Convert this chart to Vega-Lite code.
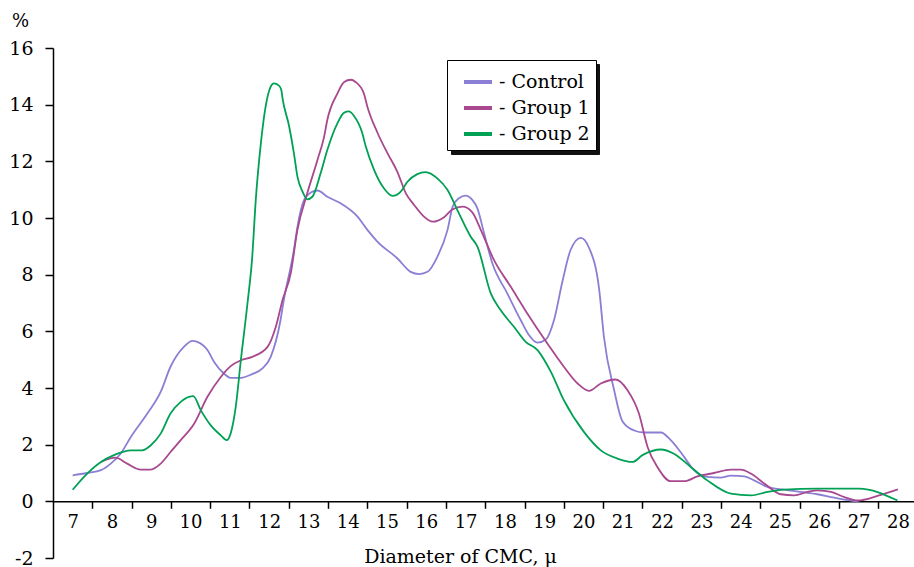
{
  "$schema": "https://vega.github.io/schema/vega-lite/v6.json",
  "autosize": {"type": "none"},
  "padding": {"left": 53, "top": 48, "right": 0, "bottom": 9},
  "width": 861,
  "height": 510,
  "background": "white",
  "config": {
    "view": {"stroke": null},
    "font": "DejaVu Serif",
    "axis": {"grid": false, "domainColor": "black", "tickColor": "black", "labelColor": "black", "titleColor": "black", "labelFont": "DejaVu Serif", "titleFont": "DejaVu Serif", "titleFontWeight": "normal", "domainWidth": 1.5, "tickWidth": 1.5},
    "legend": {"labelFont": "DejaVu Serif"}
  },
  "data": {
    "values": [
      {"d": 7.0, "p": 0.92, "g": "Control"},
      {"d": 7.37, "p": 1.0, "g": "Control"},
      {"d": 7.72, "p": 1.1, "g": "Control"},
      {"d": 7.97, "p": 1.33, "g": "Control"},
      {"d": 8.22, "p": 1.68, "g": "Control"},
      {"d": 8.48, "p": 2.27, "g": "Control"},
      {"d": 8.9, "p": 3.1, "g": "Control"},
      {"d": 9.24, "p": 3.86, "g": "Control"},
      {"d": 9.49, "p": 4.75, "g": "Control"},
      {"d": 9.83, "p": 5.45, "g": "Control"},
      {"d": 10.05, "p": 5.66, "g": "Control"},
      {"d": 10.17, "p": 5.63, "g": "Control"},
      {"d": 10.43, "p": 5.34, "g": "Control"},
      {"d": 10.6, "p": 4.92, "g": "Control"},
      {"d": 10.85, "p": 4.51, "g": "Control"},
      {"d": 11.02, "p": 4.36, "g": "Control"},
      {"d": 11.28, "p": 4.36, "g": "Control"},
      {"d": 11.57, "p": 4.49, "g": "Control"},
      {"d": 11.83, "p": 4.69, "g": "Control"},
      {"d": 12.04, "p": 5.1, "g": "Control"},
      {"d": 12.29, "p": 6.4, "g": "Control"},
      {"d": 12.36, "p": 7.0, "g": "Control"},
      {"d": 12.63, "p": 8.87, "g": "Control"},
      {"d": 12.72, "p": 9.69, "g": "Control"},
      {"d": 12.89, "p": 10.64, "g": "Control"},
      {"d": 13.06, "p": 10.9, "g": "Control"},
      {"d": 13.23, "p": 10.97, "g": "Control"},
      {"d": 13.48, "p": 10.75, "g": "Control"},
      {"d": 13.82, "p": 10.52, "g": "Control"},
      {"d": 14.25, "p": 10.05, "g": "Control"},
      {"d": 14.5, "p": 9.58, "g": "Control"},
      {"d": 14.76, "p": 9.16, "g": "Control"},
      {"d": 15.26, "p": 8.58, "g": "Control"},
      {"d": 15.6, "p": 8.1, "g": "Control"},
      {"d": 15.82, "p": 8.02, "g": "Control"},
      {"d": 16.03, "p": 8.1, "g": "Control"},
      {"d": 16.28, "p": 8.63, "g": "Control"},
      {"d": 16.54, "p": 9.58, "g": "Control"},
      {"d": 16.67, "p": 10.4, "g": "Control"},
      {"d": 16.83, "p": 10.7, "g": "Control"},
      {"d": 17.0, "p": 10.79, "g": "Control"},
      {"d": 17.17, "p": 10.64, "g": "Control"},
      {"d": 17.3, "p": 10.34, "g": "Control"},
      {"d": 17.47, "p": 9.46, "g": "Control"},
      {"d": 17.68, "p": 8.4, "g": "Control"},
      {"d": 18.06, "p": 7.34, "g": "Control"},
      {"d": 18.4, "p": 6.4, "g": "Control"},
      {"d": 18.61, "p": 5.87, "g": "Control"},
      {"d": 18.83, "p": 5.6, "g": "Control"},
      {"d": 19.04, "p": 5.71, "g": "Control"},
      {"d": 19.25, "p": 6.4, "g": "Control"},
      {"d": 19.47, "p": 7.8, "g": "Control"},
      {"d": 19.67, "p": 8.87, "g": "Control"},
      {"d": 19.93, "p": 9.3, "g": "Control"},
      {"d": 20.14, "p": 8.95, "g": "Control"},
      {"d": 20.4, "p": 7.46, "g": "Control"},
      {"d": 20.52, "p": 5.8, "g": "Control"},
      {"d": 20.78, "p": 3.92, "g": "Control"},
      {"d": 20.99, "p": 2.83, "g": "Control"},
      {"d": 21.29, "p": 2.5, "g": "Control"},
      {"d": 21.54, "p": 2.43, "g": "Control"},
      {"d": 21.97, "p": 2.43, "g": "Control"},
      {"d": 22.22, "p": 2.16, "g": "Control"},
      {"d": 22.56, "p": 1.57, "g": "Control"},
      {"d": 22.81, "p": 1.1, "g": "Control"},
      {"d": 23.15, "p": 0.86, "g": "Control"},
      {"d": 23.49, "p": 0.84, "g": "Control"},
      {"d": 23.75, "p": 0.91, "g": "Control"},
      {"d": 24.09, "p": 0.88, "g": "Control"},
      {"d": 24.34, "p": 0.74, "g": "Control"},
      {"d": 24.68, "p": 0.51, "g": "Control"},
      {"d": 25.1, "p": 0.41, "g": "Control"},
      {"d": 25.53, "p": 0.33, "g": "Control"},
      {"d": 25.95, "p": 0.25, "g": "Control"},
      {"d": 26.38, "p": 0.13, "g": "Control"},
      {"d": 26.81, "p": 0.03, "g": "Control"},
      {"d": 27.0, "p": 0.0, "g": "Control"},

      {"d": 7.72, "p": 1.39, "g": "Group 1"},
      {"d": 8.09, "p": 1.54, "g": "Group 1"},
      {"d": 8.39, "p": 1.33, "g": "Group 1"},
      {"d": 8.73, "p": 1.12, "g": "Group 1"},
      {"d": 8.99, "p": 1.12, "g": "Group 1"},
      {"d": 9.24, "p": 1.33, "g": "Group 1"},
      {"d": 9.49, "p": 1.74, "g": "Group 1"},
      {"d": 9.75, "p": 2.16, "g": "Group 1"},
      {"d": 10.09, "p": 2.74, "g": "Group 1"},
      {"d": 10.43, "p": 3.69, "g": "Group 1"},
      {"d": 10.77, "p": 4.39, "g": "Group 1"},
      {"d": 11.02, "p": 4.77, "g": "Group 1"},
      {"d": 11.28, "p": 4.98, "g": "Group 1"},
      {"d": 11.57, "p": 5.1, "g": "Group 1"},
      {"d": 11.96, "p": 5.45, "g": "Group 1"},
      {"d": 12.17, "p": 6.16, "g": "Group 1"},
      {"d": 12.34, "p": 7.1, "g": "Group 1"},
      {"d": 12.55, "p": 8.05, "g": "Group 1"},
      {"d": 12.72, "p": 9.58, "g": "Group 1"},
      {"d": 12.97, "p": 10.87, "g": "Group 1"},
      {"d": 13.23, "p": 12.05, "g": "Group 1"},
      {"d": 13.4, "p": 12.87, "g": "Group 1"},
      {"d": 13.48, "p": 13.46, "g": "Group 1"},
      {"d": 13.74, "p": 14.4, "g": "Group 1"},
      {"d": 13.91, "p": 14.8, "g": "Group 1"},
      {"d": 14.08, "p": 14.88, "g": "Group 1"},
      {"d": 14.2, "p": 14.8, "g": "Group 1"},
      {"d": 14.41, "p": 14.4, "g": "Group 1"},
      {"d": 14.5, "p": 13.93, "g": "Group 1"},
      {"d": 14.76, "p": 13.0, "g": "Group 1"},
      {"d": 15.01, "p": 12.29, "g": "Group 1"},
      {"d": 15.26, "p": 11.64, "g": "Group 1"},
      {"d": 15.48, "p": 10.87, "g": "Group 1"},
      {"d": 15.69, "p": 10.46, "g": "Group 1"},
      {"d": 15.94, "p": 10.05, "g": "Group 1"},
      {"d": 16.16, "p": 9.87, "g": "Group 1"},
      {"d": 16.45, "p": 10.03, "g": "Group 1"},
      {"d": 16.66, "p": 10.3, "g": "Group 1"},
      {"d": 16.92, "p": 10.4, "g": "Group 1"},
      {"d": 17.17, "p": 10.2, "g": "Group 1"},
      {"d": 17.38, "p": 9.6, "g": "Group 1"},
      {"d": 17.72, "p": 8.52, "g": "Group 1"},
      {"d": 18.15, "p": 7.57, "g": "Group 1"},
      {"d": 18.57, "p": 6.63, "g": "Group 1"},
      {"d": 19.08, "p": 5.57, "g": "Group 1"},
      {"d": 19.5, "p": 4.75, "g": "Group 1"},
      {"d": 19.85, "p": 4.16, "g": "Group 1"},
      {"d": 20.14, "p": 3.9, "g": "Group 1"},
      {"d": 20.44, "p": 4.16, "g": "Group 1"},
      {"d": 20.82, "p": 4.3, "g": "Group 1"},
      {"d": 21.12, "p": 3.92, "g": "Group 1"},
      {"d": 21.41, "p": 3.1, "g": "Group 1"},
      {"d": 21.63, "p": 1.92, "g": "Group 1"},
      {"d": 21.88, "p": 1.21, "g": "Group 1"},
      {"d": 22.22, "p": 0.71, "g": "Group 1"},
      {"d": 22.56, "p": 0.71, "g": "Group 1"},
      {"d": 22.9, "p": 0.88, "g": "Group 1"},
      {"d": 23.32, "p": 1.0, "g": "Group 1"},
      {"d": 23.75, "p": 1.12, "g": "Group 1"},
      {"d": 24.0, "p": 1.12, "g": "Group 1"},
      {"d": 24.26, "p": 0.98, "g": "Group 1"},
      {"d": 24.6, "p": 0.63, "g": "Group 1"},
      {"d": 25.02, "p": 0.25, "g": "Group 1"},
      {"d": 25.36, "p": 0.21, "g": "Group 1"},
      {"d": 25.7, "p": 0.33, "g": "Group 1"},
      {"d": 25.95, "p": 0.39, "g": "Group 1"},
      {"d": 26.3, "p": 0.33, "g": "Group 1"},
      {"d": 26.64, "p": 0.15, "g": "Group 1"},
      {"d": 26.98, "p": 0.03, "g": "Group 1"},
      {"d": 27.5, "p": 0.2, "g": "Group 1"},
      {"d": 28.0, "p": 0.42, "g": "Group 1"},

      {"d": 7.0, "p": 0.41, "g": "Group 2"},
      {"d": 7.37, "p": 0.98, "g": "Group 2"},
      {"d": 7.72, "p": 1.39, "g": "Group 2"},
      {"d": 8.05, "p": 1.63, "g": "Group 2"},
      {"d": 8.48, "p": 1.8, "g": "Group 2"},
      {"d": 8.77, "p": 1.8, "g": "Group 2"},
      {"d": 8.99, "p": 1.98, "g": "Group 2"},
      {"d": 9.24, "p": 2.39, "g": "Group 2"},
      {"d": 9.49, "p": 3.1, "g": "Group 2"},
      {"d": 9.75, "p": 3.51, "g": "Group 2"},
      {"d": 9.96, "p": 3.69, "g": "Group 2"},
      {"d": 10.07, "p": 3.71, "g": "Group 2"},
      {"d": 10.26, "p": 3.22, "g": "Group 2"},
      {"d": 10.51, "p": 2.69, "g": "Group 2"},
      {"d": 10.77, "p": 2.33, "g": "Group 2"},
      {"d": 10.92, "p": 2.16, "g": "Group 2"},
      {"d": 11.02, "p": 2.39, "g": "Group 2"},
      {"d": 11.15, "p": 3.33, "g": "Group 2"},
      {"d": 11.28, "p": 4.98, "g": "Group 2"},
      {"d": 11.45, "p": 7.0, "g": "Group 2"},
      {"d": 11.57, "p": 8.63, "g": "Group 2"},
      {"d": 11.66, "p": 10.64, "g": "Group 2"},
      {"d": 11.79, "p": 12.64, "g": "Group 2"},
      {"d": 11.91, "p": 13.93, "g": "Group 2"},
      {"d": 12.04, "p": 14.64, "g": "Group 2"},
      {"d": 12.12, "p": 14.75, "g": "Group 2"},
      {"d": 12.25, "p": 14.67, "g": "Group 2"},
      {"d": 12.31, "p": 14.52, "g": "Group 2"},
      {"d": 12.34, "p": 14.23, "g": "Group 2"},
      {"d": 12.51, "p": 13.23, "g": "Group 2"},
      {"d": 12.63, "p": 12.29, "g": "Group 2"},
      {"d": 12.72, "p": 11.46, "g": "Group 2"},
      {"d": 12.85, "p": 10.93, "g": "Group 2"},
      {"d": 12.97, "p": 10.66, "g": "Group 2"},
      {"d": 13.1, "p": 10.75, "g": "Group 2"},
      {"d": 13.31, "p": 11.58, "g": "Group 2"},
      {"d": 13.48, "p": 12.4, "g": "Group 2"},
      {"d": 13.74, "p": 13.35, "g": "Group 2"},
      {"d": 13.91, "p": 13.72, "g": "Group 2"},
      {"d": 14.03, "p": 13.76, "g": "Group 2"},
      {"d": 14.16, "p": 13.6, "g": "Group 2"},
      {"d": 14.37, "p": 13.0, "g": "Group 2"},
      {"d": 14.46, "p": 12.52, "g": "Group 2"},
      {"d": 14.67, "p": 11.7, "g": "Group 2"},
      {"d": 14.92, "p": 11.05, "g": "Group 2"},
      {"d": 15.14, "p": 10.78, "g": "Group 2"},
      {"d": 15.35, "p": 10.93, "g": "Group 2"},
      {"d": 15.52, "p": 11.28, "g": "Group 2"},
      {"d": 15.77, "p": 11.55, "g": "Group 2"},
      {"d": 15.98, "p": 11.62, "g": "Group 2"},
      {"d": 16.28, "p": 11.4, "g": "Group 2"},
      {"d": 16.54, "p": 10.99, "g": "Group 2"},
      {"d": 16.79, "p": 10.28, "g": "Group 2"},
      {"d": 17.13, "p": 9.34, "g": "Group 2"},
      {"d": 17.3, "p": 8.99, "g": "Group 2"},
      {"d": 17.64, "p": 7.34, "g": "Group 2"},
      {"d": 17.89, "p": 6.75, "g": "Group 2"},
      {"d": 18.23, "p": 6.16, "g": "Group 2"},
      {"d": 18.53, "p": 5.63, "g": "Group 2"},
      {"d": 18.83, "p": 5.34, "g": "Group 2"},
      {"d": 19.17, "p": 4.57, "g": "Group 2"},
      {"d": 19.5, "p": 3.57, "g": "Group 2"},
      {"d": 20.01, "p": 2.45, "g": "Group 2"},
      {"d": 20.44, "p": 1.8, "g": "Group 2"},
      {"d": 20.86, "p": 1.51, "g": "Group 2"},
      {"d": 21.25, "p": 1.39, "g": "Group 2"},
      {"d": 21.5, "p": 1.63, "g": "Group 2"},
      {"d": 21.97, "p": 1.83, "g": "Group 2"},
      {"d": 22.3, "p": 1.68, "g": "Group 2"},
      {"d": 22.73, "p": 1.21, "g": "Group 2"},
      {"d": 23.15, "p": 0.74, "g": "Group 2"},
      {"d": 23.75, "p": 0.27, "g": "Group 2"},
      {"d": 24.26, "p": 0.21, "g": "Group 2"},
      {"d": 24.68, "p": 0.33, "g": "Group 2"},
      {"d": 25.1, "p": 0.41, "g": "Group 2"},
      {"d": 25.95, "p": 0.45, "g": "Group 2"},
      {"d": 27.01, "p": 0.45, "g": "Group 2"},
      {"d": 27.99, "p": 0.03, "g": "Group 2"}
    ]
  },
  "mark": {"type": "line", "interpolate": "monotone", "strokeWidth": 1.8},
  "encoding": {
    "x": {
      "field": "d", "type": "quantitative",
      "scale": {"domain": [6.5, 28.41], "nice": false, "zero": false},
      "axis": {
        "values": [7, 8, 9, 10, 11, 12, 13, 14, 15, 16, 17, 18, 19, 20, 21, 22, 23, 24, 25, 26, 27, 28],
        "offset": -56.7,
        "tickSize": 7,
        "tickOffset": 19.64,
        "labelOffset": -19.64,
        "labelPadding": 5,
        "labelFontSize": 18,
        "labelFlush": false,
        "labelOverlap": false,
        "title": "Diameter of CMC, μ",
        "titleFontSize": 19,
        "titleX": 407,
        "titleY": 61,
        "titleAlign": "center",
        "titleBaseline": "alphabetic"
      }
    },
    "y": {
      "field": "p", "type": "quantitative",
      "scale": {"domain": [-2, 16], "nice": false, "zero": false},
      "axis": {
        "values": [-2, 0, 2, 4, 6, 8, 10, 12, 14, 16],
        "format": "d",
        "labelExpr": "replace(datum.label, '−', '-')",
        "tickSize": 8,
        "labelPadding": 12,
        "labelFontSize": 19,
        "labelFlush": false,
        "labelOverlap": false,
        "title": "%",
        "titleFontSize": 18,
        "titleAngle": 0,
        "titleX": -33,
        "titleY": -27,
        "titleAlign": "center",
        "titleBaseline": "middle"
      }
    },
    "color": {
      "field": "g", "type": "nominal",
      "scale": {"domain": ["Control", "Group 1", "Group 2"], "range": ["#8a7fd4", "#a8488f", "#00a055"]},
      "legend": {
        "title": null,
        "orient": "none",
        "zindex": 2,
        "legendX": 394,
        "legendY": 12,
        "padding": 6,
        "fillColor": "white",
        "strokeColor": "black",
        "symbolType": "stroke",
        "symbolSize": 784,
        "symbolStrokeWidth": 4,
        "symbolOffset": 9,
        "rowPadding": 0,
        "labelOffset": 5,
        "labelFontSize": 19,
        "labelColor": "black",
        "labelExpr": "'- ' + datum.label + '  '"
      }
    },
    "opacity": {
      "field": "g", "type": "nominal",
      "scale": {"domain": ["Group 2", "Group 1", "Control"], "range": [1, 1, 1]},
      "legend": {
        "title": null,
        "orient": "none",
        "zindex": 1,
        "legendX": 398,
        "legendY": 16,
        "padding": 6,
        "fillColor": "#111111",
        "strokeColor": "#111111",
        "symbolType": "stroke",
        "symbolSize": 784,
        "symbolStrokeWidth": 4,
        "symbolStrokeColor": "#111111",
        "symbolOffset": 9,
        "rowPadding": 0,
        "labelOffset": 95,
        "labelFontSize": 18.7,
        "labelColor": "#111111",
        "labelExpr": "'                '"
      }
    }
  }
}
